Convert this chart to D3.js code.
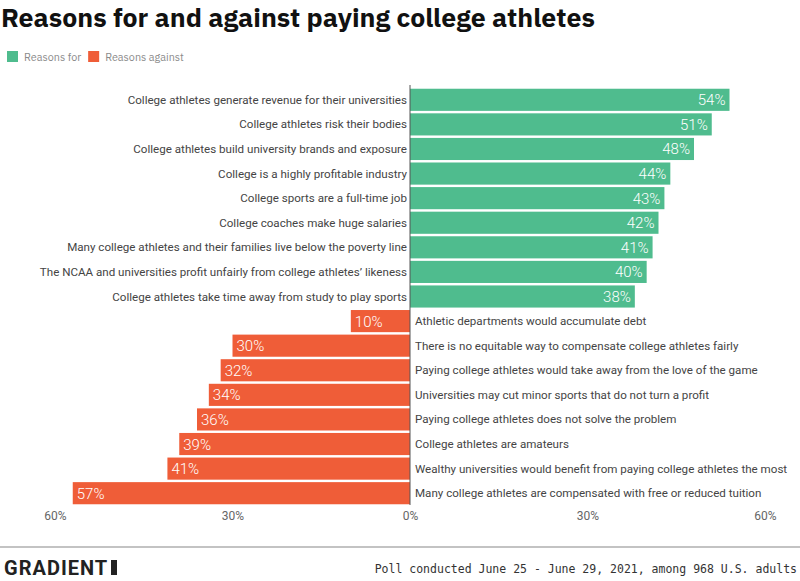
<!DOCTYPE html>
<html><head><meta charset="utf-8">
<script src="https://cdn.jsdelivr.net/npm/d3@7"></script>
<style>body{margin:0;background:#fff}svg{display:block}</style>
</head><body>
<svg id="c" width="800" height="581"></svg>
<script>
const forCategories = [
  "College athletes generate revenue for their universities",
  "College athletes risk their bodies",
  "College athletes build university brands and exposure",
  "College is a highly profitable industry",
  "College sports are a full-time job",
  "College coaches make huge salaries",
  "Many college athletes and their families live below the poverty line",
  "The NCAA and universities profit unfairly from college athletes’ likeness",
  "College athletes take time away from study to play sports"
];
const forValues = [54, 51, 48, 44, 43, 42, 41, 40, 38];
const againstCategories = [
  "Athletic departments would accumulate debt",
  "There is no equitable way to compensate college athletes fairly",
  "Paying college athletes would take away from the love of the game",
  "Universities may cut minor sports that do not turn a profit",
  "Paying college athletes does not solve the problem",
  "College athletes are amateurs",
  "Wealthy universities would benefit from paying college athletes the most",
  "Many college athletes are compensated with free or reduced tuition"
];
const againstValues = [10, 30, 32, 34, 36, 39, 41, 57];
const tickValues = [-60, -30, 0, 30, 60];
const tickLabels = ["60%", "30%", "0%", "30%", "60%"];
const seriesNames = ["Reasons for", "Reasons against"];

const colors = {"for": "#4fbc8e", "against": "#ef5d38"};
const rows = forCategories.map((c, i) => ({cat: c, v: forValues[i], type: "for"}))
  .concat(againstCategories.map((c, i) => ({cat: c, v: againstValues[i], type: "against"})));

const svg = d3.select("#c");
const x = d3.scaleLinear().domain([-60, 60]).range([55, 765]);
const y = d3.scaleBand().domain(rows.map(d => d.cat)).range([88, 505]).paddingInner(0.1).paddingOuter(0.03);
const sans = "'IBM Plex Sans','Open Sans','Noto Sans',sans-serif";
const cond = "Roboto,'Open Sans',sans-serif";

svg.append("text").attr("x", 1).attr("y", 27).attr("font-family", sans).attr("font-weight", 700)
  .attr("font-size", 26.7).attr("fill", "#111").text("Reasons for and against paying college athletes");

// legend
const lg = svg.append("g");
let lx = 7;
seriesNames.forEach((n, i) => {
  lg.append("rect").attr("x", lx).attr("y", 51).attr("width", 11).attr("height", 11)
    .attr("fill", i === 0 ? colors.for : colors.against);
  const t = lg.append("text").attr("x", lx + 17).attr("y", 61).attr("font-family", sans)
    .attr("font-size", 10.8).attr("fill", "#8a8a8a").text(n);
  lx += 17 + t.node().getComputedTextLength() + 7;
});

// bars
svg.append("g").selectAll("rect").data(rows).join("rect")
  .attr("x", d => d.type === "for" ? x(0) : x(-d.v))
  .attr("width", d => d.type === "for" ? x(d.v) - x(0) : x(0) - x(-d.v))
  .attr("y", d => y(d.cat)).attr("height", y.bandwidth())
  .attr("fill", d => colors[d.type]);

// value labels
svg.append("g").selectAll("text").data(rows).join("text")
  .attr("x", d => d.type === "for" ? x(d.v) - 4 : x(-d.v) + 4)
  .attr("y", d => y(d.cat) + y.bandwidth() / 2 + 5.5)
  .attr("text-anchor", d => d.type === "for" ? "end" : "start")
  .attr("font-family", "Roboto,'Open Sans',sans-serif").attr("font-weight", 300)
  .attr("font-size", 15).attr("fill", "#fff")
  .text(d => d.v + "%");

// category labels
svg.append("g").selectAll("text").data(rows).join("text")
  .attr("x", d => d.type === "for" ? x(0) - 3 : x(0) + 5)
  .attr("y", d => y(d.cat) + y.bandwidth() / 2 + 4)
  .attr("text-anchor", d => d.type === "for" ? "end" : "start")
  .attr("font-family", cond).attr("font-size", 11.6).attr("fill", "#444")
  .text(d => d.cat);

// zero line
svg.append("line").attr("x1", x(0)).attr("x2", x(0)).attr("y1", 85).attr("y2", 505)
  .attr("stroke", "#555").attr("stroke-width", 1);

// x axis
const ax = svg.append("g").attr("transform", "translate(0,505)")
  .call(d3.axisBottom(x).tickValues(tickValues).tickSize(0).tickPadding(6)
    .tickFormat((d, i) => tickLabels[i]));
ax.select(".domain").remove();
ax.selectAll("text").attr("font-family", cond).attr("font-size", 12).attr("fill", "#666");

// footer
svg.append("line").attr("x1", 0).attr("x2", 800).attr("y1", 547).attr("y2", 547)
  .attr("stroke", "#888").attr("stroke-width", 1.2);
svg.append("text").attr("x", 4).attr("y", 575).attr("font-family", cond).attr("font-weight", 700)
  .attr("font-size", 20).attr("fill", "#222").attr("letter-spacing", 1).text("GRADIENT");
svg.append("rect").attr("x", 111).attr("y", 560).attr("width", 6).attr("height", 15).attr("fill", "#222");
svg.append("text").attr("x", 797).attr("y", 573).attr("text-anchor", "end")
  .attr("font-family", "'DejaVu Sans Mono','Liberation Mono',monospace").attr("font-size", 11.5)
  .attr("fill", "#333").text("Poll conducted June 25 - June 29, 2021, among 968 U.S. adults");
</script>
</body></html>
